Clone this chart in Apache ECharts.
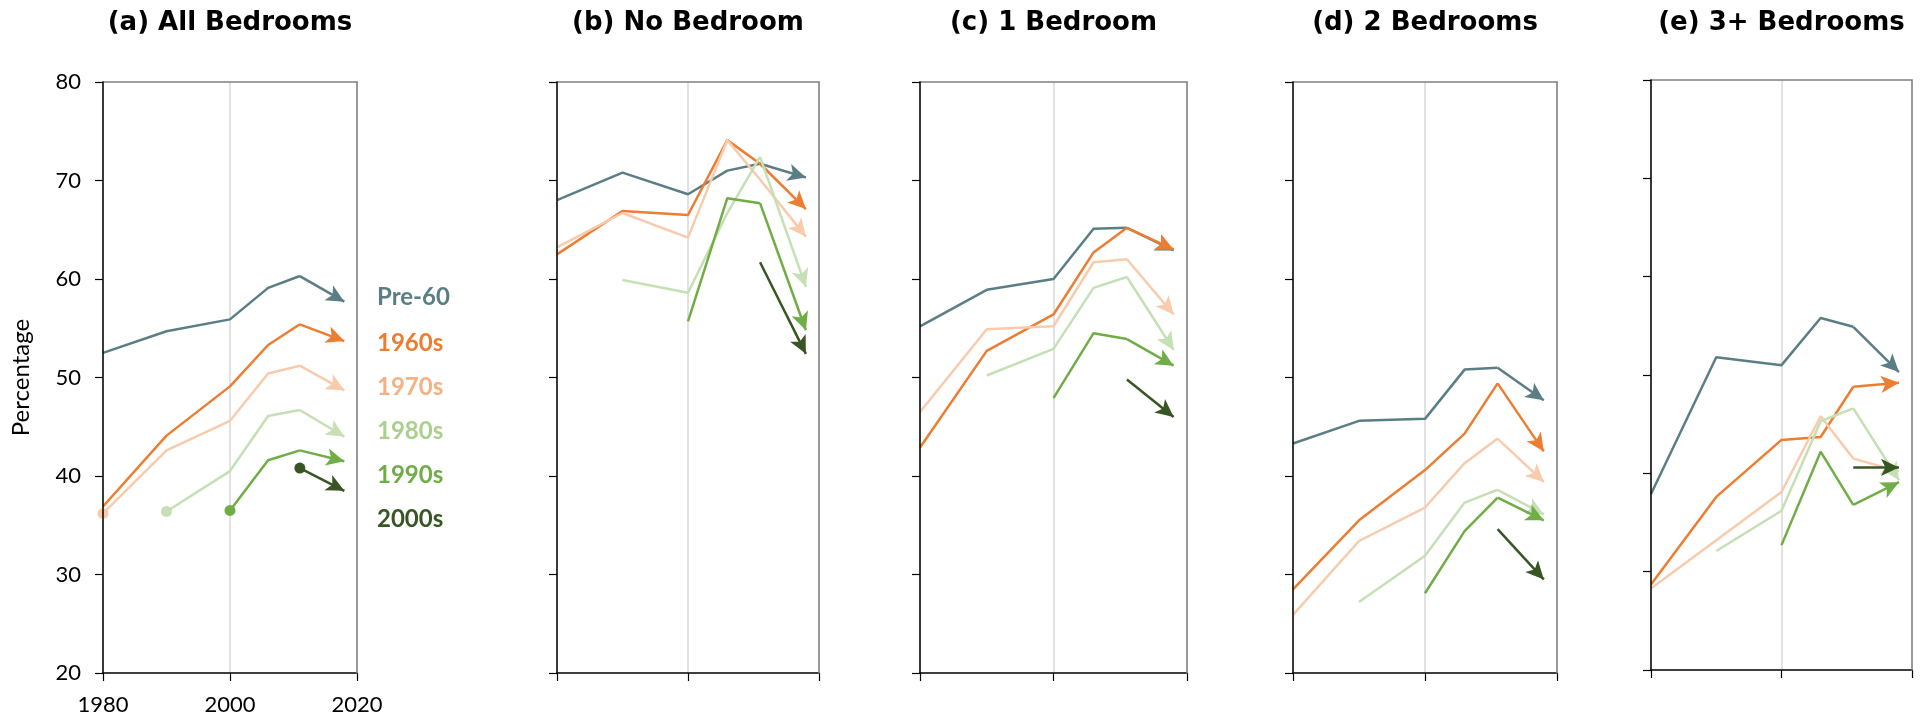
<!DOCTYPE html>
<html>
<head>
<meta charset="utf-8">
<script src="https://cdn.jsdelivr.net/npm/echarts@6/dist/echarts.min.js"></script>
<style>html,body{margin:0;padding:0;background:#fff}#c{width:1923px;height:720px}</style>
</head>
<body>
<div id="c"></div>
<script>
// ---- data ----
const years = [1980, 1990, 2000, 2006, 2011, 2018];
const cohorts = ['Pre-60', '1960s', '1970s', '1980s', '1990s', '2000s'];
const panelTitles = ['(a) All Bedrooms', '(b) No Bedroom', '(c) 1 Bedroom', '(d) 2 Bedrooms', '(e) 3+ Bedrooms'];
const xTickLabels = [1980, 2000, 2020];
const yTickLabels = [20, 30, 40, 50, 60, 70, 80];
const dotCohorts = ['1970s', '1980s', '1990s', '2000s']; // start dots, panel (a) only

const allBedrooms = [
  [52.5, 54.7, 55.9, 59.1, 60.3, 57.7],
  [36.9, 44.1, 49.1, 53.3, 55.4, 53.7],
  [36.2, 42.6, 45.6, 50.4, 51.2, 48.7],
  [null, 36.4, 40.5, 46.1, 46.7, 44.0],
  [null, null, 36.5, 41.6, 42.6, 41.5],
  [null, null, null, null, 40.8, 38.5]
];
const noBedroom = [
  [68.0, 70.8, 68.6, 71.0, 71.7, 70.3],
  [62.5, 66.9, 66.5, 74.1, 71.7, 67.1],
  [63.2, 66.7, 64.2, 74.1, 70.1, 64.3],
  [null, 59.9, 58.6, 66.7, 72.4, 59.2],
  [null, null, 55.7, 68.2, 67.7, 54.8],
  [null, null, null, null, 61.7, 52.4]
];
const oneBedroom = [
  [55.2, 58.9, 60.0, 65.1, 65.2, 62.9],
  [42.9, 52.7, 56.4, 62.7, 65.2, 63.0],
  [46.5, 54.9, 55.2, 61.7, 62.0, 56.4],
  [null, 50.2, 52.9, 59.1, 60.2, 52.8],
  [null, null, 47.9, 54.5, 53.9, 51.2],
  [null, null, null, null, 49.8, 46.0]
];
const twoBedrooms = [
  [43.3, 45.6, 45.8, 50.8, 51.0, 47.7],
  [28.5, 35.5, 40.6, 44.3, 49.4, 42.5],
  [25.9, 33.4, 36.8, 41.3, 43.8, 39.4],
  [null, 27.2, 31.9, 37.3, 38.6, 36.1],
  [null, null, 28.1, 34.4, 37.8, 35.5],
  [null, null, null, null, 34.6, 29.5]
];
const threePlusBedrooms = [
  [37.9, 51.8, 51.0, 55.8, 54.9, 50.3],
  [28.7, 37.6, 43.4, 43.7, 48.8, 49.2],
  [28.3, null, 38.1, 45.8, 41.5, 40.2],
  [null, 32.1, 36.2, 45.3, 46.6, 39.3],
  [null, null, 32.7, 42.2, 36.8, 39.1],
  [null, null, null, null, 40.6, 40.6]
];
const panels = [allBedrooms, noBedroom, oneBedroom, twoBedrooms, threePlusBedrooms];

// ---- styles ----
const lineColors = ['#5B7E85', '#ED7D31', '#F8CBAD', '#C5E0B4', '#70AD47', '#375623'];
const labelColors = ['#5B7E85', '#ED7D31', '#F4B183', '#A9D18E', '#70AD47', '#375623'];
const grids = [
  {left: 103, top: 82, width: 254, height: 591},
  {left: 557, top: 82, width: 262, height: 591},
  {left: 920, top: 82, width: 267, height: 591},
  {left: 1293, top: 82, width: 264, height: 591},
  {left: 1651, top: 80, width: 261, height: 590}
];
const legendY = [297, 343, 387, 431, 475, 519];
const LW = 2.5;

const xAxes = [], yAxes = [], series = [], graphics = [];
grids.forEach((g, p) => {
  const first = p === 0;
  xAxes.push({
    gridIndex: p, type: 'value', min: xTickLabels[0], max: xTickLabels[2], interval: 20,
    position: 'bottom', z: 2,
    axisLine: {show: true, lineStyle: {color: '#000', width: 1.5}},
    axisTick: {show: true, inside: false, length: 8, lineStyle: {color: '#000', width: 1.2}},
    axisLabel: {show: first, margin: 21, color: '#000', fontFamily: 'Lato', fontSize: 22,
      formatter: v => String(v)},
    splitLine: {show: true, lineStyle: {color: '#D9D9D9', width: 1.5}}
  });
  xAxes.push({
    gridIndex: p, type: 'value', min: xTickLabels[0], max: xTickLabels[2], position: 'top', z: 3,
    axisLine: {show: true, lineStyle: {color: '#808080', width: 1.5}},
    axisTick: {show: false}, axisLabel: {show: false}, splitLine: {show: false}
  });
  yAxes.push({
    gridIndex: p, type: 'value', min: yTickLabels[0], max: yTickLabels[yTickLabels.length - 1], interval: 10,
    position: 'left', z: 4,
    name: first ? 'Percentage' : '', nameLocation: 'middle', nameGap: 70,
    nameTextStyle: {color: '#000', fontFamily: 'Lato', fontSize: 24},
    axisLine: {show: true, lineStyle: {color: '#000', width: 1.5}},
    axisTick: {show: true, inside: false, length: 8, lineStyle: {color: '#000', width: 1.2}},
    axisLabel: {show: first, margin: 22, color: '#000', fontFamily: 'Lato', fontSize: 22,
      formatter: v => String(v)},
    splitLine: {show: false}
  });
  yAxes.push({
    gridIndex: p, type: 'value', min: yTickLabels[0], max: yTickLabels[yTickLabels.length - 1], position: 'right', z: 3,
    axisLine: {show: true, lineStyle: {color: '#808080', width: 1.5}},
    axisTick: {show: false}, axisLabel: {show: false}, splitLine: {show: false}
  });

  graphics.push({
    type: 'text', x: g.left + g.width / 2, y: 23, silent: true,
    style: {text: panelTitles[p], font: 'bold 26px "DejaVu Sans"', fill: '#000',
      align: 'center', verticalAlign: 'middle', textAlign: 'center', textVerticalAlign: 'middle'}
  });

  const rows = panels[p];
  rows.forEach((vals, c) => {
    const pts = [];
    for (let i = 0; i < 5; i++) {
      if (vals[i] == null) continue;
      const item = {value: [years[i], vals[i]]};
      if (first && pts.length === 0 && dotCohorts.indexOf(cohorts[c]) >= 0) {
        item.symbol = 'circle';
        item.symbolSize = 11;
      }
      pts.push(item);
    }
    series.push({
      type: 'line', name: cohorts[c], xAxisIndex: p * 2, yAxisIndex: p * 2,
      data: pts, symbol: 'none', showSymbol: true, silent: true, clip: false,
      itemStyle: {color: lineColors[c]},
      lineStyle: {color: lineColors[c], width: LW},
      emphasis: {disabled: true},
      markLine: {
        silent: true, animation: false,
        symbol: ['none', 'arrow'],
        symbolSize: 16,
        label: {show: false},
        emphasis: {disabled: true},
        itemStyle: {color: lineColors[c]},
        lineStyle: {color: lineColors[c], width: LW, type: 'solid'},
        data: [[
          {coord: [years[4], vals[4]], symbol: 'none'},
          {coord: [years[5], vals[5]], symbol: 'arrow', symbolSize: [13, 18], symbolOffset: [0, 0]}
        ]]
      }
    });
  });
});

cohorts.forEach((name, c) => {
  graphics.push({
    type: 'text', x: 377, y: legendY[c], silent: true,
    style: {text: name, font: 'bold 24px Lato', fill: labelColors[c],
      align: 'left', verticalAlign: 'middle', textAlign: 'left', textVerticalAlign: 'middle'}
  });
});

const chart = echarts.init(document.getElementById('c'), null, {renderer: 'canvas'});
chart.setOption({
  animation: false,
  backgroundColor: '#fff',
  grid: grids.map(g => Object.assign({outerBoundsMode: 'none', containLabel: false}, g)),
  xAxis: xAxes,
  yAxis: yAxes,
  series: series,
  graphic: graphics
});
</script>
</body>
</html>
